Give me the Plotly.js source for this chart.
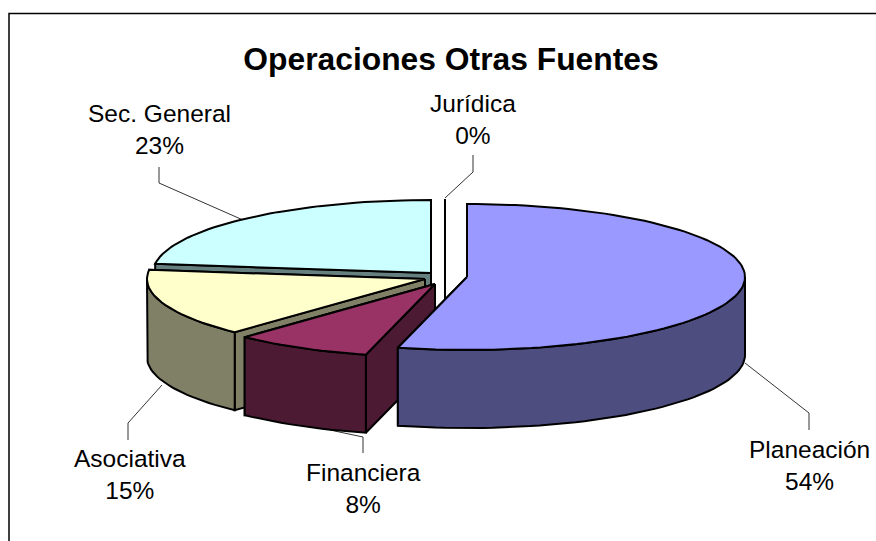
<!DOCTYPE html>
<html><head><meta charset="utf-8">
<script src="https://cdn.plot.ly/plotly-3.0.1.min.js"></script>
<style>html,body{margin:0;padding:0;background:#fff}</style></head>
<body><div id="chart" style="width:876px;height:541px"></div>
<script>
// Data
const categories = ['Planeación','Financiera','Asociativa','Sec. General','Jurídica'];
const values = [54,8,15,23,0];
const chartTitle = 'Operaciones Otras Fuentes';

// Exploded pie projection (styles and geometry only)
const apexX = [467,435,425,431,445];
const apexY = [277,284,279,273,272];
const topColors = ['#9999FF','#993366','#FFFFCC','#CCFFFF','#FFFFFF'];
const wallColors = ['#4D4D80','#4D1A33','#808066','#668080','#FFFFFF'];
const RX = 278, RY = 73, DEPTH = 78;
const drawOrder = [4,3,2,1,0];
const labelX = [809,363,130,159,473];
const labelY = [465,488.5,474.5,129,119];
const leaders = [
  [[745,363],[809,413],[809,430]],
  [[330,430],[363,437],[363,453]],
  [[162,385],[128,423],[128,440]],
  [[243,220],[159,183],[159,167]],
  [[445,198],[473,172],[473,155]]
];

const total = values.reduce((a,b)=>a+b,0);
const rad = d => d*Math.PI/180;
function rim(i,deg,drop){
  return [apexX[i]+RX*Math.sin(rad(deg)), apexY[i]-RY*Math.cos(rad(deg))+(drop||0)];
}
function poly(pts,fill){
  const c = pts.concat([pts[0]]);
  return {type:'scatter',mode:'lines',x:c.map(p=>p[0]),y:c.map(p=>p[1]),
    fill:'toself',fillcolor:fill,line:{color:'#000',width:2,shape:'linear'},
    hoverinfo:'skip',showlegend:false};
}
function arc(i,a,b,drop){
  const n = Math.max(2,Math.ceil(Math.abs(b-a)/2)), out=[];
  for(let k=0;k<=n;k++) out.push(rim(i,a+(b-a)*k/n,drop));
  return out;
}
let acc=0; const starts=[], ends=[];
values.forEach(v=>{starts.push(acc/total*360); acc+=v; ends.push(acc/total*360);});
const traces=[];
leaders.forEach(l=>traces.push({type:'scatter',mode:'lines',x:l.map(p=>p[0]),y:l.map(p=>p[1]),
  line:{color:'#333',width:1},hoverinfo:'skip',showlegend:false}));
drawOrder.forEach(i=>{
  const s=starts[i], e=ends[i], ap=[apexX[i],apexY[i]];
  const face=deg=>{
    const r=rim(i,deg);
    return poly([ap,r,[r[0],r[1]+DEPTH],[ap[0],ap[1]+DEPTH]],wallColors[i]);
  };
  traces.push(face(e)); traces.push(face(s));
  const a=Math.max(s,90), b=Math.min(e,270);
  if(b>a) traces.push(poly(arc(i,a,b,0).concat(arc(i,b,a,DEPTH)),wallColors[i]));
  traces.push(poly([ap].concat(arc(i,s,e,0)),topColors[i]));
});

const font='"Liberation Sans", Arial, sans-serif';
const annotations=categories.map((c,i)=>({x:labelX[i],y:labelY[i],xref:'x',yref:'y',
  text:c+'<br>'+Math.round(values[i]/total*100)+'%',showarrow:false,xanchor:'center',yanchor:'middle',
  align:'center',font:{family:font,size:24.5,color:'#000'}}));
const layout={width:876,height:541,margin:{l:0,r:0,t:0,b:0},paper_bgcolor:'#fff',plot_bgcolor:'#fff',
  title:{text:'<b>'+chartTitle+'</b>',x:451/876,xanchor:'center',y:1-59/541,yanchor:'middle',
    font:{family:font,size:31.8,color:'#000'}},
  xaxis:{range:[0,876],visible:false,fixedrange:true},
  yaxis:{range:[541,0],visible:false,fixedrange:true},
  shapes:[{type:'rect',xref:'x',yref:'y',x0:9,y0:13.5,x1:920,y1:600,line:{color:'#000',width:1.5},fillcolor:'rgba(0,0,0,0)',layer:'below'}],
  annotations:annotations,showlegend:false};
Plotly.newPlot('chart',traces,layout,{displayModeBar:false,staticPlot:true});
</script></body></html>
